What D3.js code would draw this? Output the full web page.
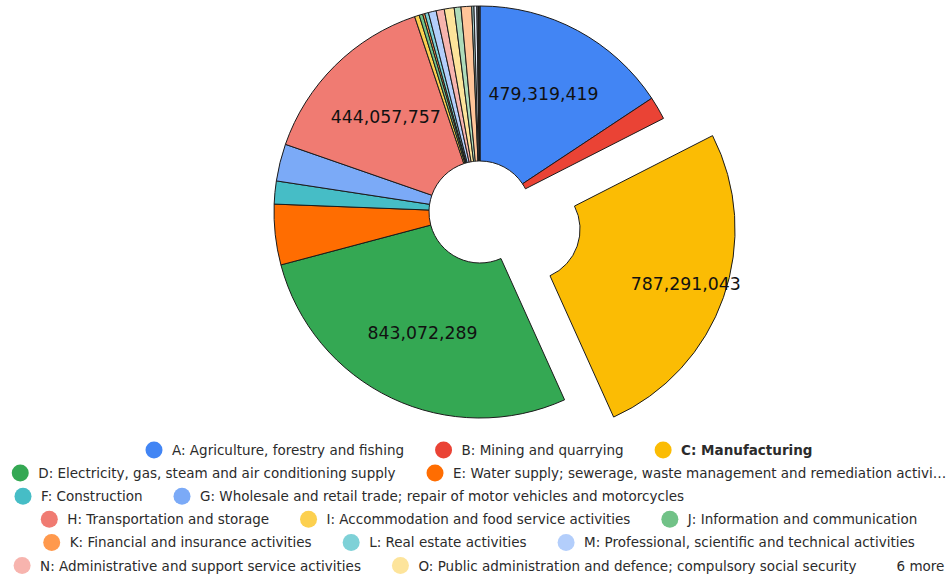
<!DOCTYPE html>
<html><head><meta charset="utf-8">
<script src="https://cdn.jsdelivr.net/npm/d3@7"></script>
<style>body{margin:0;background:#fff}svg{display:block}</style>
</head><body><svg id="chart" width="952" height="578"></svg>
<script>
const categories = [
  "A: Agriculture, forestry and fishing",
  "B: Mining and quarrying",
  "C: Manufacturing",
  "D: Electricity, gas, steam and air conditioning supply",
  "E: Water supply; sewerage, waste management and remediation activities",
  "F: Construction",
  "G: Wholesale and retail trade; repair of motor vehicles and motorcycles",
  "H: Transportation and storage",
  "I: Accommodation and food service activities",
  "J: Information and communication",
  "K: Financial and insurance activities",
  "L: Real estate activities",
  "M: Professional, scientific and technical activities",
  "N: Administrative and support service activities",
  "O: Public administration and defence; compulsory social security",
  "P: Education",
  "Q: Human health and social work activities",
  "R: Arts, entertainment and recreation",
  "S: Other service activities",
  "T: Activities of households as employers",
  "U: Activities of extraterritorial organisations and bodies"
];
const values = [
  479319419, 55000000, 787291043, 843072289, 145000000, 55000000, 89000000,
  444057757, 11200000, 8600000, 5100000, 9000000, 18600000, 19500000,
  23700000, 16200000, 25400000, 5300000, 6900000, 3800000, 3600000
];
const colors = [
  "#4285F4", "#EA4335", "#FBBC04", "#34A853", "#FF6D01", "#46BDC6", "#7BAAF7",
  "#F07B72", "#FCD04F", "#71C287", "#FF994D", "#7ED1D7", "#B3CEFB", "#F7B4AE",
  "#FDE49B", "#AEDCBA", "#FFC599", "#A9D3CC", "#E8F0FE", "#5F6368", "#3C4043"
];
const explodedCategory = "C: Manufacturing";
const legendShown = 15;
const moreLabel = (categories.length - legendShown) + " more";

// layout constants
const W = 952, H = 578;
const cx = 480, cy = 212, rOuter = 206, rInner = 51, explode = 52;
const labelR = 134, explodedLabelR = 166;
const legendRows = [[0,1,2],[3,4],[5,6],[7,8,9],[10,11,12],[13,14]];
const legendRowY = 450, legendRowStep = 23.1;
const font = "DejaVu Sans";
const legendFontSize = 13.5;

const data = categories.map((c, i) => ({cat: c, value: values[i], color: colors[i]}));
const svg = d3.select("#chart");
const total = d3.sum(values);

const pie = d3.pie().sort(null).value(d => d.value);
const arcs = pie(data);
const arc = d3.arc().innerRadius(rInner).outerRadius(rOuter);
const lArc = d3.arc().innerRadius(labelR).outerRadius(labelR);
const eArc = d3.arc().innerRadius(explodedLabelR).outerRadius(explodedLabelR);

const g = svg.append("g").attr("transform", `translate(${cx},${cy})`);
function offset(d) {
  if (d.data.cat !== explodedCategory) return [0, 0];
  const m = (d.startAngle + d.endAngle) / 2;
  return [Math.sin(m) * explode, -Math.cos(m) * explode];
}
g.selectAll("path.slice").data(arcs).join("path")
  .attr("class", "slice")
  .attr("d", arc)
  .attr("fill", d => d.data.color)
  .attr("stroke", "#1b1b1b")
  .attr("stroke-width", 1)
  .attr("stroke-linejoin", "round")
  .attr("transform", d => { const o = offset(d); return `translate(${o[0]},${o[1]})`; });

const fmt = d3.format(",");
g.selectAll("text.lbl").data(arcs.filter(d => d.data.value / total > 0.1)).join("text")
  .attr("class", "lbl")
  .attr("transform", d => {
    const o = offset(d);
    const c = d.data.cat === explodedCategory ? eArc.centroid(d) : lArc.centroid(d);
    return `translate(${c[0] + o[0]},${c[1] + o[1]})`;
  })
  .attr("text-anchor", "middle")
  .attr("dominant-baseline", "central")
  .attr("font-family", font)
  .attr("font-size", 17.3)
  .attr("fill", "#111")
  .text(d => fmt(d.data.value));

// legend
const lg = svg.append("g");
const maxText = 495;
legendRows.forEach((row, ri) => {
  const y = legendRowY + ri * legendRowStep;
  const rowG = lg.append("g");
  let x = 0;
  const items = row.map(i => data[i]);
  const extra = (ri === legendRows.length - 1) ? [moreLabel] : [];
  items.forEach((d, k) => {
    const it = rowG.append("g").attr("transform", `translate(${x},${y})`);
    it.append("circle").attr("cx", 8.5).attr("cy", 0).attr("r", 8.5).attr("fill", d.color);
    const t = it.append("text").attr("x", 26.5).attr("y", 0)
      .attr("dominant-baseline", "central")
      .attr("font-family", font).attr("font-size", legendFontSize)
      .attr("fill", "#2b2b2b")
      .attr("font-weight", d.cat === explodedCategory ? "bold" : "normal")
      .text(d.cat);
    if (t.node().getComputedTextLength() > maxText) {
      let s = d.cat;
      while (s.length > 1 && t.node().getComputedTextLength() > maxText) {
        s = s.slice(0, -1);
        t.text(s.trimEnd() + "…");
      }
    }
    x += 26.5 + t.node().getComputedTextLength() + 31;
  });
  extra.forEach(s => {
    const t = rowG.append("text").attr("x", x + 9).attr("y", y)
      .attr("dominant-baseline", "central")
      .attr("font-family", font).attr("font-size", legendFontSize).attr("fill", "#2b2b2b").text(s);
    x += 9 + t.node().getComputedTextLength() + 31;
  });
  const rowW = x - 31;
  let left = 479 - rowW / 2;
  if (ri === 2) left = 14.5;
  rowG.attr("transform", `translate(${left},0)`);
});
</script></body></html>
